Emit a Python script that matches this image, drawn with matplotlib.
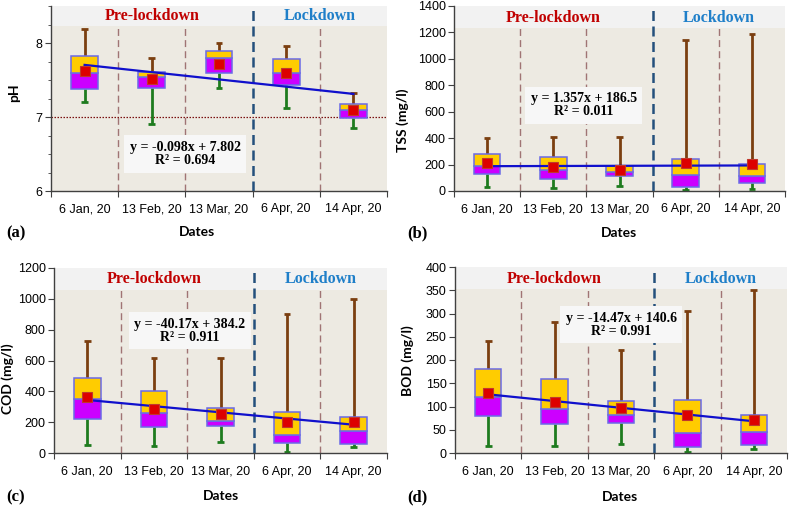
import matplotlib
matplotlib.use("Agg")
import matplotlib.pyplot as plt
from matplotlib.patches import Rectangle
from matplotlib.ticker import MultipleLocator, FixedLocator, NullFormatter, FixedFormatter
import numpy as np

dates = ["6 Jan, 20", "13 Feb, 20", "13 Mar, 20", "6 Apr, 20", "14 Apr, 20"]

# pH
ph_min = [7.20, 6.90, 7.39, 7.12, 6.855]
ph_q1 = [7.375, 7.39, 7.60, 7.43, 6.99]
ph_med = [7.60, 7.547, 7.80, 7.60, 7.10]
ph_q3 = [7.82, 7.606, 7.89, 7.79, 7.18]
ph_max = [8.195, 7.80, 8.00, 7.96, 7.32]
ph_mean = [7.615, 7.51, 7.72, 7.59, 7.09]
ph_fit = (-0.098, 7.802, 0.694)

# TSS
tss_min = [28, 23, 38, 5, 18]
tss_q1 = [131, 93, 111, 30, 61]
tss_med = [187, 162, 142, 121, 111]
tss_q3 = [283, 260, 190, 243, 207]
tss_max = [402, 412, 412, 1142, 1188]
tss_mean = [210, 180, 162, 210, 205]
tss_fit = (1.357, 186.5, 0.011)

# COD
cod_min = [52, 48, 72, 9, 37]
cod_q1 = [219, 167, 174, 65, 61]
cod_med = [351, 262, 208, 115, 141]
cod_q3 = [484, 403, 295, 269, 236]
cod_max = [727, 618, 618, 900, 996]
cod_mean = [364, 286, 252, 204, 204]
cod_fit = (-40.17, 384.2, 0.911)

# BOD
bod_min = [16, 14, 20, 2, 9]
bod_q1 = [80, 62, 65, 13, 17]
bod_med = [120, 95, 81, 42, 45]
bod_q3 = [180, 160, 112, 113, 81]
bod_max = [241, 281, 221, 305, 350]
bod_mean = [128, 110, 96, 81, 71]
bod_fit = (-14.47, 140.6, 0.991)

W, H = 789, 507
fig = plt.figure(figsize=(W / 100, H / 100), dpi=100)

BG = "#edeae2"
HEAD = "#f2f2f2"
GOLD = "#ffcc00"
MAG = "#cc00ff"
EDGE = "#6a6ae6"
BROWN = "#7b3f10"
GREEN = "#1e7b1e"
RED = "#dd0000"
REDE = "#c0392b"
FIT = "#1010cc"
VL = "#a07474"
BLUE_D = "#24507c"

TICKFONT = "Liberation Sans"
SERIF = "Liberation Serif"
LABFONT = "Lato"


def px_axes(l, r, t, b):
    return fig.add_axes([l / W, 1 - b / H, (r - l) / W, (b - t) / H])


def panel(ax, mn, q1, med, q3, mx, mean, fit, ylim, ystep, head_frac, eqpos, minor=None, hline=None):
    x = np.arange(1, 6)
    ax.set_facecolor(BG)
    ax.set_xlim(0.5, 5.5)
    ax.set_ylim(*ylim)
    ax.add_patch(Rectangle((0, head_frac), 1, 1 - head_frac, transform=ax.transAxes,
                           facecolor=HEAD, edgecolor="none", zorder=0.5))
    ybound = ylim[0] + head_frac * (ylim[1] - ylim[0])
    for xv in [1.5, 2.5, 4.5]:
        ax.plot([xv, xv], [ylim[0], ybound], color=VL, lw=1.0, dashes=(5, 3), zorder=1)
    ax.axvline(3.5, color=BLUE_D, lw=1.8, dashes=(4, 2.2), zorder=1)
    if hline is not None:
        ax.axhline(hline, color="#7a1010", lw=0.9, ls=(0, (1.2, 1.2)), zorder=1)
    mn, q1, med, q3, mx = map(np.asarray, (mn, q1, med, q3, mx))
    bw = 0.4
    cw = 0.1
    # whiskers
    ax.vlines(x, q3, mx, color=BROWN, lw=2.0, zorder=2)
    ax.hlines(mx, x - cw / 2, x + cw / 2, color=BROWN, lw=2.0, zorder=2)
    ax.vlines(x, mn, q1, color=GREEN, lw=2.0, zorder=2)
    ax.hlines(mn, x - cw / 2, x + cw / 2, color=GREEN, lw=2.0, zorder=2)
    # boxes
    ax.bar(x, med - q1, bottom=q1, width=bw, color=MAG, edgecolor=EDGE, lw=1.1, zorder=3)
    ax.bar(x, q3 - med, bottom=med, width=bw, color=GOLD, edgecolor=EDGE, lw=1.1, zorder=3)
    # fit
    a, b, r2 = fit
    xf = np.array([1, 5])
    ax.plot(xf, a * xf + b, color=FIT, lw=1.6, zorder=4)
    ax.plot(x, mean, ls="none", marker="s", ms=6.5, mfc=RED, mec=REDE, mew=0.8, zorder=5)
    # headers
    ty = ybound + (ylim[1] - ybound) * 0.48
    ax.text(2.0, ty, "Pre-lockdown", color="#c00000", fontsize=11.5, fontweight="bold",
            family=SERIF, ha="center", va="center", zorder=6)
    ax.text(4.5, ty, "Lockdown", color="#1f7fc9", fontsize=11.5, fontweight="bold",
            family=SERIF, ha="center", va="center", zorder=6)
    eq = f"y = {a:g}x + {b:g}\nR\u00b2 = {r2:.3f}"
    ax.text(eqpos[0], eqpos[1], eq, ha="center", va="center", fontsize=10, fontweight="bold",
            family=SERIF, linespacing=1.0, zorder=6,
            bbox=dict(boxstyle="square,pad=0.4", fc="#f7f7f7", ec="none"))
    # ticks
    ax.xaxis.set_major_locator(FixedLocator([0.5, 1.5, 2.5, 3.5, 4.5, 5.5]))
    ax.xaxis.set_major_formatter(NullFormatter())
    ax.xaxis.set_minor_locator(FixedLocator(list(x)))
    ax.xaxis.set_minor_formatter(FixedFormatter(dates))
    ax.tick_params(axis="x", which="major", length=4, direction="out", color="#404040")
    ax.tick_params(axis="x", which="minor", length=0, pad=9, labelsize=9)
    ax.yaxis.set_major_locator(MultipleLocator(ystep))
    ax.tick_params(axis="y", which="major", length=4, color="#404040", labelsize=9, pad=2)
    if minor:
        ax.yaxis.set_minor_locator(MultipleLocator(minor))
        ax.tick_params(axis="y", which="minor", length=2.5, color="#404040")
    for lab in ax.get_xticklabels(minor=True) + ax.get_yticklabels():
        lab.set_family(TICKFONT)
    for s in ["top", "right"]:
        ax.spines[s].set_visible(False)
    for s in ["left", "bottom"]:
        ax.spines[s].set_color("#404040")
        ax.spines[s].set_linewidth(1.0)


axa = px_axes(51, 387, 6, 191)
panel(axa, ph_min, ph_q1, ph_med, ph_q3, ph_max, ph_mean, ph_fit, (6, 8.5), 1, 0.892,
      (2.5, 6.5), minor=0.25, hline=7.0)
axb = px_axes(454, 785, 6, 191)
panel(axb, tss_min, tss_q1, tss_med, tss_q3, tss_max, tss_mean, tss_fit, (0, 1400), 200, 0.879,
      (2.46, 650))
axc = px_axes(54, 387, 268, 453)
panel(axc, cod_min, cod_q1, cod_med, cod_q3, cod_max, cod_mean, cod_fit, (0, 1200), 200, 0.882,
      (2.54, 792))
axd = px_axes(455, 787, 267, 453)
panel(axd, bod_min, bod_q1, bod_med, bod_q3, bod_max, bod_mean, bod_fit, (0, 400), 50, 0.88,
      (3.0, 276))


def ftext(xp, yp, s, **kw):
    fig.text(xp / W, 1 - yp / H, s, **kw)


lab_kw = dict(family=LABFONT, fontweight="bold", fontsize=10, ha="center", va="center")
ftext(14, 93, "pH", rotation=90, **lab_kw)
ftext(403, 120, "TSS (mg/l)", rotation=90, **lab_kw)
ftext(8, 379, "COD (mg/l)", rotation=90, **lab_kw)
ftext(408, 361, "BOD (mg/l)", rotation=90, **lab_kw)
ftext(197, 232, "Dates", **lab_kw)
ftext(619, 233, "Dates", **lab_kw)
ftext(221, 496, "Dates", **lab_kw)
ftext(620, 497, "Dates", **lab_kw)

pl_kw = dict(family=SERIF, fontweight="bold", fontsize=12, ha="left", va="center")
ftext(6, 233, "(a)", **pl_kw)
ftext(407, 233, "(b)", **pl_kw)
ftext(6, 497, "(c)", **pl_kw)
ftext(407, 497, "(d)", **pl_kw)

fig.savefig("out.png", dpi=100)
